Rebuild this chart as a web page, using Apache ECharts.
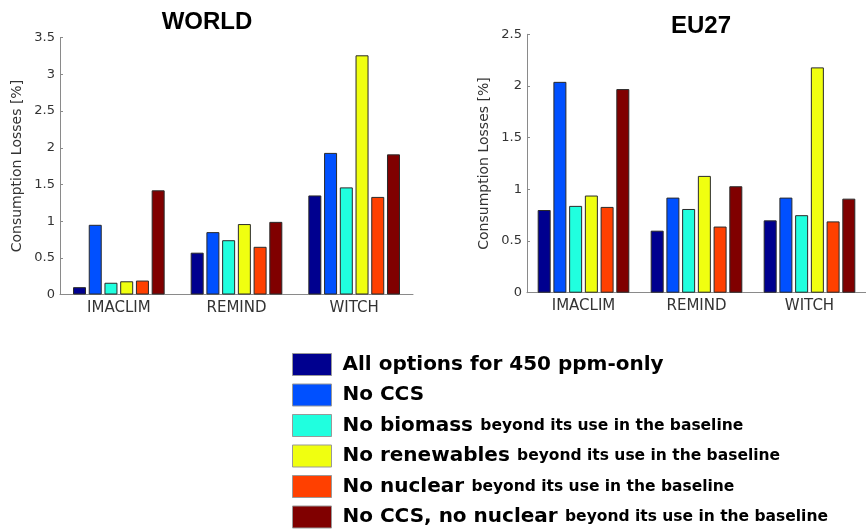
<!DOCTYPE html>
<html>
<head>
<meta charset="utf-8">
<script src="https://cdn.jsdelivr.net/npm/echarts@6/dist/echarts.min.js"></script>
<style>
html,body{margin:0;padding:0;background:#fff;}
#chart{width:866px;height:529px;}
</style>
</head>
<body>
<div id="chart"></div>
<script>
// ---- Data ----
const categories = ['IMACLIM', 'REMIND', 'WITCH'];
const yTicksWorld = [0, 0.5, 1, 1.5, 2, 2.5, 3, 3.5];
const yTicksEU = [0, 0.5, 1, 1.5, 2, 2.5];

const legendMain = ['All options for 450 ppm-only', 'No CCS', 'No biomass', 'No renewables', 'No nuclear', 'No CCS, no nuclear'];
const legendSuffix = ['', '', 'beyond its use in the baseline', 'beyond its use in the baseline', 'beyond its use in the baseline', 'beyond its use in the baseline'];

// WORLD
const world_allOptions     = [0.10, 0.57, 1.35];
const world_noCCS          = [0.95, 0.85, 1.93];
const world_noBiomass      = [0.16, 0.74, 1.46];
const world_noRenewables   = [0.18, 0.96, 3.26];
const world_noNuclear      = [0.19, 0.65, 1.33];
const world_noCCSNoNuclear = [1.42, 0.99, 1.91];

// EU27
const eu_allOptions     = [0.80, 0.60, 0.70];
const eu_noCCS          = [2.04, 0.92, 0.92];
const eu_noBiomass      = [0.84, 0.81, 0.75];
const eu_noRenewables   = [0.94, 1.13, 2.18];
const eu_noNuclear      = [0.83, 0.64, 0.69];
const eu_noCCSNoNuclear = [1.97, 1.03, 0.91];

const worldSeries = [world_allOptions, world_noCCS, world_noBiomass, world_noRenewables, world_noNuclear, world_noCCSNoNuclear];
const euSeries = [eu_allOptions, eu_noCCS, eu_noBiomass, eu_noRenewables, eu_noNuclear, eu_noCCSNoNuclear];

const colors = ['#00008F', '#0050FF', '#20FFDF', '#F0FF10', '#FF4000', '#800000'];

// ---- Chart ----
const chart = echarts.init(document.getElementById('chart'), null, {renderer: 'canvas'});

const axisGray = '#8a8a8a';
const labelFont = 'DejaVu Sans';

function makeY(idx, ticks) {
  return {
    type: 'value', gridIndex: idx,
    min: ticks[0], max: ticks[ticks.length - 1], interval: 0.5,
    name: 'Consumption Losses [%]', nameLocation: 'middle', nameGap: 36, nameRotate: 90,
    nameTextStyle: {fontFamily: labelFont, fontSize: 14, color: '#333'},
    axisLine: {show: true, lineStyle: {color: axisGray, width: 1}},
    axisTick: {show: true, inside: true, length: 3, lineStyle: {color: axisGray}},
    axisLabel: {fontFamily: labelFont, fontSize: 13, color: '#333', margin: 5},
    splitLine: {show: false}
  };
}
function makeX(idx) {
  return {
    type: 'category', gridIndex: idx, data: categories,
    axisLine: {show: true, lineStyle: {color: axisGray, width: 1}},
    axisTick: {show: false},
    axisLabel: {fontFamily: labelFont, fontSize: 15, color: '#333', margin: 6},
    splitLine: {show: false}
  };
}

const series = [];
[worldSeries, euSeries].forEach((group, gi) => {
  group.forEach((vals, si) => {
    series.push({
      type: 'bar', name: legendMain[si],
      xAxisIndex: gi, yAxisIndex: gi,
      data: vals,
      barWidth: 13, barGap: '21%',
      itemStyle: {color: colors[si], borderColor: '#2a2a2a', borderWidth: 1},
      emphasis: {disabled: true}
    });
  });
});

chart.setOption({
  animation: false,
  color: colors,
  title: [
    {text: 'WORLD', left: 207, top: 10, padding: 0, textAlign: 'center',
     textStyle: {fontFamily: 'Liberation Sans', fontWeight: 'bold', fontSize: 24, color: '#000'}},
    {text: 'EU27', left: 701, top: 14, padding: 0, textAlign: 'center',
     textStyle: {fontFamily: 'Liberation Sans', fontWeight: 'bold', fontSize: 24, color: '#000'}}
  ],
  grid: [
    {left: 60, top: 37.7, width: 353, height: 256.8},
    {left: 527, top: 34.3, width: 353, height: 258.4}
  ],
  xAxis: [makeX(0), makeX(1)],
  yAxis: [makeY(0, yTicksWorld), makeY(1, yTicksEU)],
  legend: {
    orient: 'vertical', left: 292, top: 353, height: 400, width: 700, padding: 0,
    itemWidth: 39, itemHeight: 22, itemGap: 7.5,
    icon: 'rect', selectedMode: false,
    data: legendMain,
    itemStyle: {borderColor: '#999', borderWidth: 1},
    formatter: function (name) {
      const i = legendMain.indexOf(name);
      return legendSuffix[i] ? '{a|' + name + '} {b|' + legendSuffix[i] + '}' : '{a|' + name + '}';
    },
    textStyle: {
      color: '#000',
      rich: {
        a: {fontFamily: labelFont, fontWeight: 'bold', fontSize: 20, color: '#000', lineHeight: 22, padding: [0, 0, 0, 6]},
        b: {fontFamily: labelFont, fontWeight: 'bold', fontSize: 15.5, color: '#000', lineHeight: 22, padding: [0, 0, 0, 4]}
      }
    }
  },
  series: series
});
</script>
</body>
</html>
